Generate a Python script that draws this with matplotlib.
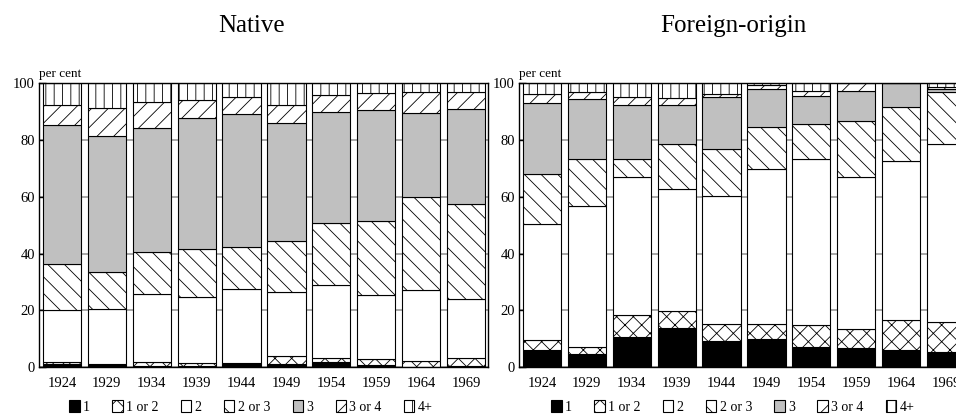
"""Household size shares (per cent), native vs foreign-origin, 1924-1969."""

import matplotlib
matplotlib.use("Agg")
import matplotlib.pyplot as plt
import numpy as np
from matplotlib.patches import Patch

plt.rcParams["font.family"] = ["Liberation Serif", "DejaVu Serif"]
plt.rcParams["hatch.linewidth"] = 0.6

# ---------- data -----------------------------------------------------------
years = ["1924", "1929", "1934", "1939", "1944", "1949", "1954", "1959", "1964", "1969"]
categories = ["1", "1 or 2", "2", "2 or 3", "3", "3 or 4", "4+"]

# shares per category (bottom to top), one value per year
native = {
    "1":      [1.2, 1.1, 0.5, 0.3, 1.0, 1.0, 1.9, 0.8, 0.2, 0.5],
    "1 or 2": [0.6, 0.1, 1.3, 1.2, 0.6, 2.9, 1.4, 2.0, 1.9, 2.7],
    "2":      [18.4, 19.2, 23.9, 23.4, 25.8, 22.5, 25.5, 22.6, 25.1, 20.8],
    "2 or 3": [16.1, 13.3, 15.0, 16.7, 14.9, 17.9, 22.0, 26.0, 32.6, 33.6],
    "3":      [48.9, 47.8, 43.7, 46.0, 46.8, 41.7, 39.0, 39.2, 29.6, 33.5],
    "3 or 4": [7.2, 9.7, 8.9, 6.4, 6.0, 6.4, 6.1, 5.9, 7.4, 5.7],
    "4+":     [7.6, 8.8, 6.7, 6.0, 4.9, 7.6, 4.1, 3.5, 3.2, 3.2],
}
foreign = {
    "1":      [6.1, 4.6, 10.7, 13.9, 9.3, 10.1, 7.3, 6.8, 6.2, 5.5],
    "1 or 2": [3.5, 2.7, 7.6, 5.8, 5.9, 5.1, 7.7, 6.6, 10.4, 10.5],
    "2":      [41.0, 49.4, 48.6, 43.0, 45.0, 54.7, 58.5, 53.5, 56.2, 62.5],
    "2 or 3": [17.3, 16.8, 6.4, 15.8, 16.6, 14.8, 12.0, 19.9, 18.7, 18.5],
    "3":      [25.0, 20.9, 18.9, 13.7, 18.5, 13.3, 10.1, 10.6, 8.5, 1.0],
    "3 or 4": [3.2, 2.4, 2.9, 2.5, 0.8, 1.4, 1.8, 2.6, 0.0, 0.8],
    "4+":     [3.9, 3.2, 4.9, 5.3, 3.9, 0.6, 2.6, 0.3, 0.0, 1.2],
}

styles = {
    "1":      dict(facecolor="black", hatch=None),
    "1 or 2": dict(facecolor="white", hatch="xx"),
    "2":      dict(facecolor="white", hatch=None),
    "2 or 3": dict(facecolor="white", hatch="\\\\"),
    "3":      dict(facecolor="#c0c0c0", hatch=None),
    "3 or 4": dict(facecolor="white", hatch="//"),
    "4+":     dict(facecolor="white", hatch="||"),
}


def draw_panel(ax, data):
    x = np.arange(len(years))
    bottom = np.zeros(len(years))
    for cat in categories:
        vals = np.array(data[cat])
        ax.bar(x, vals, bottom=bottom, width=0.85, edgecolor="black",
               linewidth=0.8, zorder=2, **styles[cat])
        bottom += vals
    ax.set_xlim(-0.51, 9.49)
    ax.set_ylim(0, 100)
    ax.set_xticks(x)
    ax.set_xticklabels(years)
    ax.set_yticks([0, 20, 40, 60, 80, 100])
    ax.yaxis.grid(True, color="#a0a0a0", linewidth=1.3, zorder=0)
    ax.set_axisbelow(True)
    ax.tick_params(axis="y", direction="in", length=5, width=1, pad=3,
                   labelsize=10.5)
    ax.tick_params(axis="x", length=0, pad=7, labelsize=10.5)
    for s in ax.spines.values():
        s.set_linewidth(1.0)
        s.set_zorder(3)
    ax.text(0, 1.012, "per cent", transform=ax.transAxes, ha="left",
            va="bottom", fontsize=9.5)


fig = plt.figure(figsize=(9.56, 4.16), dpi=100)
ax1 = fig.add_axes([0.0408, 0.1171, 0.4697, 0.6827])
ax2 = fig.add_axes([0.5429, 0.1171, 0.4697, 0.6827])
draw_panel(ax1, native)
draw_panel(ax2, foreign)

fig.text(0.2626, 0.9375, "Native", ha="center", va="center", fontsize=18)
fig.text(0.7667, 0.9375, "Foreign-origin", ha="center", va="center", fontsize=18)

handles = [Patch(edgecolor="black", linewidth=0.8, **styles[c]) for c in categories]
for xc in (0.2626, 0.7667):
    fig.legend(handles, categories, loc="center", bbox_to_anchor=(xc, 0.022),
               ncol=7, frameon=False, fontsize=10, handlelength=0.75,
               handleheight=1.0, handletextpad=0.25, columnspacing=1.6)

fig.savefig("out.png", dpi=100)
